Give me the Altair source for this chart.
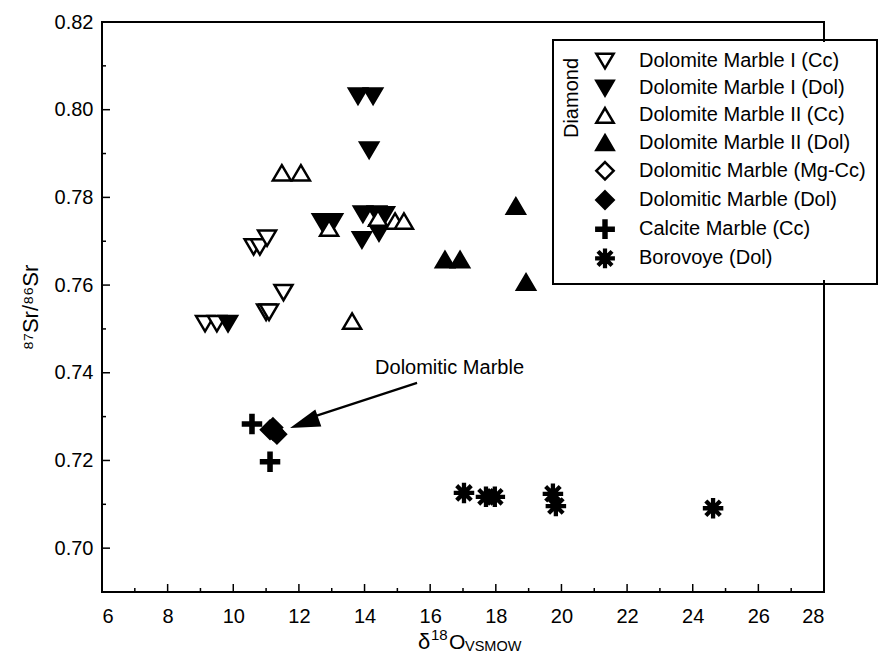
import altair as alt
import pandas as pd

# ---------------- data ----------------
categories = [
    "Dolomite Marble I (Cc)",
    "Dolomite Marble I (Dol)",
    "Dolomite Marble II (Cc)",
    "Dolomite Marble II (Dol)",
    "Dolomitic Marble (Mg-Cc)",
    "Dolomitic Marble (Dol)",
    "Calcite Marble (Cc)",
    "Borovoye (Dol)",
]

dm1_cc_x = [9.14, 9.50, 11.00, 11.09, 11.53, 10.62, 10.81, 11.03]
dm1_cc_y = [0.7512, 0.7512, 0.7538, 0.7538, 0.7583, 0.7687, 0.7687, 0.7707]

dm1_dol_x = [9.84, 13.80, 14.26, 14.14, 12.70, 13.04, 13.95, 14.38, 14.62, 13.92, 14.44]
dm1_dol_y = [0.7512, 0.8031, 0.8031, 0.7908, 0.7744, 0.7744, 0.7762, 0.7762, 0.7760, 0.7703, 0.7719]

dm2_cc_x = [11.48, 12.06, 12.92, 14.41, 14.93, 15.20, 13.62]
dm2_cc_y = [0.7856, 0.7856, 0.7730, 0.7753, 0.7746, 0.7746, 0.7518]

dm2_dol_x = [16.45, 16.91, 18.61, 18.92]
dm2_dol_y = [0.7658, 0.7658, 0.7780, 0.7607]

dmg_mgcc_x = [11.22]
dmg_mgcc_y = [0.7268]

dmg_dol_x = [11.12, 11.33, 11.21]
dmg_dol_y = [0.7270, 0.7260, 0.7275]

calcite_x = [10.57, 11.12]
calcite_y = [0.7283, 0.7197]

borovoye_x = [17.03, 17.70, 17.97, 19.74, 19.83, 24.62]
borovoye_y = [0.7126, 0.7117, 0.7117, 0.7124, 0.7096, 0.7091]

x_tick_labels = [6, 8, 10, 12, 14, 16, 18, 20, 22, 24, 26, 28]
x_minor_ticks = [7, 9, 11, 13, 15, 17, 19, 21, 23, 25, 27]
y_tick_labels = [0.70, 0.72, 0.74, 0.76, 0.78, 0.80, 0.82]
y_minor_ticks = [0.71, 0.73, 0.75, 0.77, 0.79, 0.81]

annotation_text = ["Dolomitic Marble"]
annotation_xy = [16.59, 0.7411]
arrow_start = [15.60, 0.7377]
arrow_end = [12.45, 0.7300]
arrow_tip = [11.73, 0.7274]
legend_group_title = ["Diamond"]
x_title_parts = ["δ", "18", "O", "VSMOW"]

# ---------------- table ----------------
groups = [
    (categories[0], dm1_cc_x, dm1_cc_y),
    (categories[1], dm1_dol_x, dm1_dol_y),
    (categories[3], dm2_dol_x, dm2_dol_y),
    (categories[2], dm2_cc_x, dm2_cc_y),
    (categories[4], dmg_mgcc_x, dmg_mgcc_y),
    (categories[5], dmg_dol_x, dmg_dol_y),
    (categories[6], calcite_x, calcite_y),
    (categories[7], borovoye_x, borovoye_y),
]
rows = []
for cat, xs, ys in groups:
    for xv, yv in zip(xs, ys):
        rows.append({"cat": cat, "d18O": xv, "sr": yv})
df = pd.DataFrame(rows)

# ---------------- styling ----------------
W, H = 722, 570
FONT = "Liberation Sans"
LEG_X, LEG_Y, LEG_BOTTOM = 451, 18, 261

tri_down = "M-1,-0.85L1,-0.85L0,0.85Z"
tri_up = "M0,-0.85L1,0.85L-1,0.85Z"
diamond = "M0,-1L1,0L0,1L-1,0Z"
t = 0.17
plus = (f"M{-t},-1L{t},-1L{t},{-t}L1,{-t}L1,{t}L{t},{t}L{t},1L{-t},1L{-t},{t}"
        f"L-1,{t}L-1,{-t}L{-t},{-t}Z")
asterisk = ("M-1,-0.1L1,-0.1L1,0.1L-1,0.1Z"
            "M-0.1,-1L0.1,-1L0.1,1L-0.1,1Z"
            "M-0.64,-0.78L0.78,0.64L0.64,0.78L-0.78,-0.64Z"
            "M-0.78,0.64L0.64,-0.78L0.78,-0.64L-0.64,0.78Z")
shape_range = [tri_down, tri_down, tri_up, tri_up, diamond, diamond, plus, asterisk]
fill_range = ["white", "black", "white", "black", "white", "black", "black", "black"]
stroke_range = ["black"] * 8

xscale = alt.Scale(domain=[6, 28], nice=False, zero=False)
yscale = alt.Scale(domain=[0.69, 0.82], nice=False, zero=False)

legend = alt.Legend(
    title=None,
    orient="none",
    legendX=LEG_X,
    legendY=LEG_Y,
    padding=11,
    rowPadding=1.2,
    symbolOffset=31,
    labelOffset=24,
    labelFontSize=20,
    labelFont=FONT,
    labelColor="black",
    labelLimit=400,
    symbolSize=300,
    symbolStrokeColor="black",
    symbolStrokeWidth=2.5,
    strokeColor="black",
)

points = alt.Chart(df).mark_point(
    size=324, strokeWidth=2.5, opacity=1
).encode(
    x=alt.X("d18O:Q", scale=xscale,
            axis=alt.Axis(values=x_tick_labels, title=None, ticks=False, domain=False,
                          grid=False, labelFontSize=20, labelPadding=14,
                          labelColor="black", labelFont=FONT)),
    y=alt.Y("sr:Q", scale=yscale,
            axis=alt.Axis(values=y_tick_labels, format=".2f", title="⁸⁷Sr/⁸⁶Sr",
                          ticks=False, domain=False, grid=False, labelFontSize=20,
                          labelPadding=9, labelColor="black", labelFont=FONT,
                          titleFontSize=22, titleFont=FONT, titleColor="black",
                          titleFontWeight="normal", titlePadding=12)),
    shape=alt.Shape("cat:N", scale=alt.Scale(domain=categories, range=shape_range), legend=legend),
    fill=alt.Fill("cat:N", scale=alt.Scale(domain=categories, range=fill_range), legend=legend),
    stroke=alt.Stroke("cat:N", scale=alt.Scale(domain=categories, range=stroke_range), legend=legend),
)

xmaj = alt.Chart(pd.DataFrame({"v": x_tick_labels})).mark_rule(color="black", strokeWidth=1.5).encode(
    x=alt.X("v:Q", scale=xscale), y=alt.value(H), y2=alt.value(H - 8))
xmin = alt.Chart(pd.DataFrame({"v": x_minor_ticks})).mark_rule(color="black", strokeWidth=1.5).encode(
    x=alt.X("v:Q", scale=xscale), y=alt.value(H), y2=alt.value(H - 4))
ymaj = alt.Chart(pd.DataFrame({"v": y_tick_labels})).mark_rule(color="black", strokeWidth=1.5).encode(
    y=alt.Y("v:Q", scale=yscale), x=alt.value(0), x2=alt.value(8))
ymin = alt.Chart(pd.DataFrame({"v": y_minor_ticks})).mark_rule(color="black", strokeWidth=1.5).encode(
    y=alt.Y("v:Q", scale=yscale), x=alt.value(0), x2=alt.value(4))

ann_df = pd.DataFrame({"t": annotation_text, "x": [annotation_xy[0]], "y": [annotation_xy[1]]})
ann = alt.Chart(ann_df).mark_text(fontSize=20, font=FONT, color="black").encode(
    x=alt.X("x:Q", scale=xscale), y=alt.Y("y:Q", scale=yscale), text="t:N")

arrow_df = pd.DataFrame({"x": [arrow_start[0]], "y": [arrow_start[1]],
                         "x2": [arrow_end[0]], "y2": [arrow_end[1]]})
arrow_line = alt.Chart(arrow_df).mark_rule(color="black", strokeWidth=2.2).encode(
    x=alt.X("x:Q", scale=xscale), y=alt.Y("y:Q", scale=yscale), x2="x2:Q", y2="y2:Q")

head_df = pd.DataFrame({"x": [arrow_tip[0]], "y": [arrow_tip[1]]})
arrow_head = alt.Chart(head_df).mark_point(
    shape="M0,0L-1,-0.3L-1,0.3Z", size=3600, angle=160.5, filled=True,
    fill="black", opacity=1
).encode(x=alt.X("x:Q", scale=xscale), y=alt.Y("y:Q", scale=yscale))

# white backing of the legend box (hides the frame line behind the legend)
leg_back = alt.Chart(pd.DataFrame({"k": [0]})).mark_rect(color="white").encode(
    x=alt.value(LEG_X + 2), x2=alt.value(W + 60), y=alt.value(LEG_Y + 2), y2=alt.value(LEG_BOTTOM - 3))

grp_title = alt.Chart(pd.DataFrame({"t": legend_group_title})).mark_text(
    fontSize=20, font=FONT, color="black", angle=270, align="center", baseline="middle").encode(
    x=alt.value(470), y=alt.value(76), text="t:N")


def title_part(text, x, y, size):
    return alt.Chart(pd.DataFrame({"t": [text]})).mark_text(
        fontSize=size, font=FONT, color="black", align="left", baseline="alphabetic").encode(
        x=alt.value(x), y=alt.value(y), text="t:N")


xt_delta = title_part(x_title_parts[0], 316, H + 57, 22)
xt_sup = title_part(x_title_parts[1], 329, H + 48, 15)
xt_o = title_part(x_title_parts[2], 347, H + 57, 21)
xt_sub = title_part(x_title_parts[3], 363, H + 59, 14.5)

chart = alt.layer(
    xmaj, xmin, ymaj, ymin, arrow_line, arrow_head, ann, points, leg_back, grp_title,
    xt_delta, xt_sup, xt_o, xt_sub
).properties(
    width=W, height=H,
    autosize="none",
    padding={"left": 94, "top": 14, "right": 57, "bottom": 64},
).configure(
    font=FONT, background="white"
).configure_view(
    stroke="black", strokeWidth=2
).configure_legend(
    strokeWidth=2
)

chart.save("out.html", embed_options={"renderer": "svg", "actions": False})
